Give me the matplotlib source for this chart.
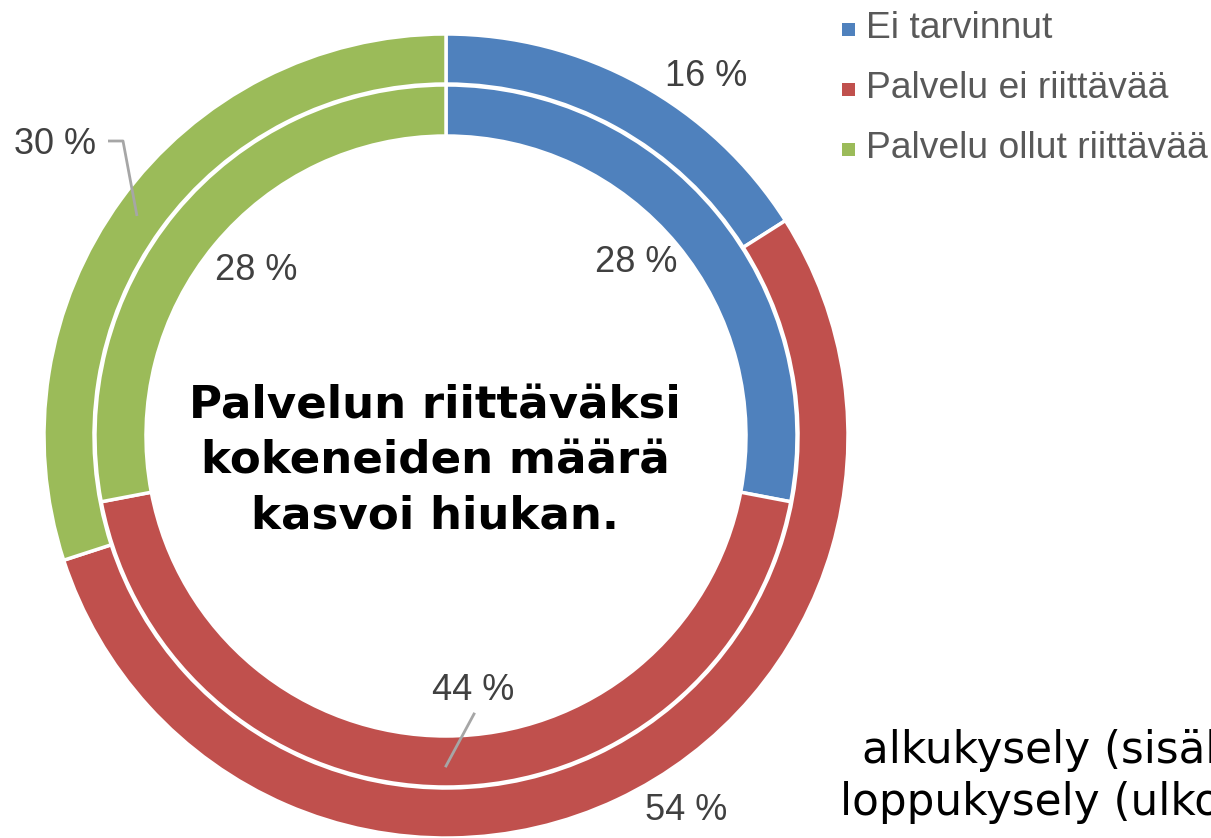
import matplotlib
matplotlib.use("Agg")
import matplotlib.pyplot as plt
from matplotlib.patches import Rectangle

categories = ["Ei tarvinnut", "Palvelu ei riittävää", "Palvelu ollut riittävää"]
outer_values = [16, 54, 30]   # loppukysely (ulkokehä)
inner_values = [28, 44, 28]   # alkukysely (sisäkehä)
colors = ["#4F81BD", "#C0504D", "#9BBB59"]

W, H = 1211, 838
fig = plt.figure(figsize=(W / 100, H / 100), dpi=100)
ax = fig.add_axes([0, 0, 1, 1])

cx, cy = 446, H - 436
R_out, w_out = 402, 50
R_in, w_in = 351, 51

ax.pie(outer_values, colors=colors, startangle=90, counterclock=False,
       center=(cx, cy), radius=R_out, frame=True,
       wedgeprops=dict(width=w_out, edgecolor="white", linewidth=2.5))
ax.pie(inner_values, colors=colors, startangle=90, counterclock=False,
       center=(cx, cy), radius=R_in, frame=True,
       wedgeprops=dict(width=w_in, edgecolor="white", linewidth=2.5))
ax.set_xlim(0, W)
ax.set_ylim(0, H)
ax.set_aspect("equal")
ax.axis("off")

lab_color = "#404040"
lead_color = "#A6A6A6"
fs = 26
font = "Liberation Sans"

def fmt(v):
    return f"{v} %"

# outer labels
ax.text(706, H - 77, fmt(outer_values[0]), fontsize=fs, color=lab_color, family=font, ha="center", va="center")
ax.text(686, H - 810, fmt(outer_values[1]), fontsize=fs, color=lab_color, family=font, ha="center", va="center")
ax.text(55, H - 145, fmt(outer_values[2]), fontsize=fs, color=lab_color, family=font, ha="center", va="center")
ax.plot([108, 123, 137], [H - 141, H - 141, H - 216], color=lead_color, lw=2, solid_capstyle="butt")

# inner labels
ax.text(636, H - 262, fmt(inner_values[0]), fontsize=fs, color=lab_color, family=font, ha="center", va="center")
ax.text(473, H - 690, fmt(inner_values[1]), fontsize=fs, color=lab_color, family=font, ha="center", va="center")
ax.text(256, H - 270, fmt(inner_values[2]), fontsize=fs, color=lab_color, family=font, ha="center", va="center")
ax.plot([474, 446], [H - 714, H - 766], color=lead_color, lw=2)

# legend
for i, (cat, col) in enumerate(zip(categories, colors)):
    y = H - (29 + 60 * i)
    ax.add_patch(Rectangle((842, y - 7), 13, 13, facecolor=col, edgecolor="none"))
    ax.text(866, y, cat, fontsize=26.8, color="#595959", family=font, ha="left", va="center")

# center title
ax.text(435, H - 461, "Palvelun riittäväksi\nkokeneiden määrä\nkasvoi hiukan.",
        fontsize=32.5, fontweight="bold", color="black", family="DejaVu Sans",
        ha="center", va="center", linespacing=1.35)

# ring explanation (cut off at figure edge, as in the reference)
ax.text(862, H - 750, "alkukysely (sisäkehä)", fontsize=31.5, color="black", family="DejaVu Sans",
        ha="left", va="center")
ax.text(840, H - 802, "loppukysely (ulkokehä)", fontsize=31.5, color="black", family="DejaVu Sans",
        ha="left", va="center")

fig.savefig("out.png", dpi=100)
